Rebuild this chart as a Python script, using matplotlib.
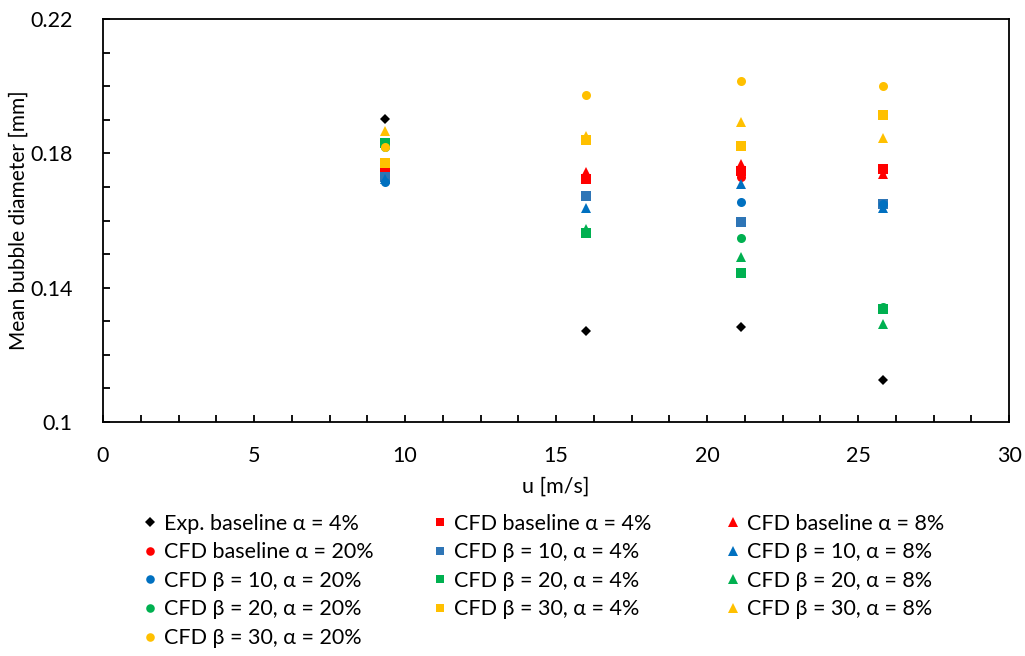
import matplotlib
matplotlib.use("Agg")
import matplotlib.pyplot as plt
from matplotlib.ticker import MultipleLocator

plt.rcParams['font.family'] = ['Lato', 'DejaVu Sans']

u = [9.35, 15.98, 21.12, 25.82]

labels = [
    "Exp. baseline α = 4%",
    "CFD baseline α = 4%",
    "CFD baseline α = 8%",
    "CFD baseline α = 20%",
    "CFD β = 10, α = 4%",
    "CFD β = 10, α = 8%",
    "CFD β = 10, α = 20%",
    "CFD β = 20, α = 4%",
    "CFD β = 20, α = 8%",
    "CFD β = 20, α = 20%",
    "CFD β = 30, α = 4%",
    "CFD β = 30, α = 8%",
    "CFD β = 30, α = 20%",
]

exp_base_4 = [0.1903, 0.1271, 0.1283, 0.1125]
cfd_base_4 = [0.1748, 0.1725, 0.1748, 0.1753]
cfd_base_8 = [0.1750, 0.1745, 0.1769, 0.1738]
cfd_base_20 = [0.1740, 0.1727, 0.1730, 0.1750]
cfd_b10_4 = [0.1730, 0.1672, 0.1595, 0.1648]
cfd_b10_8 = [0.1725, 0.1636, 0.1710, 0.1636]
cfd_b10_20 = [0.1716, 0.1841, 0.1654, 0.1650]
cfd_b20_4 = [0.1832, 0.1564, 0.1445, 0.1336]
cfd_b20_8 = [0.1832, 0.1576, 0.1491, 0.1293]
cfd_b20_20 = [0.1820, 0.1841, 0.1547, 0.1342]
cfd_b30_4 = [0.1771, 0.1841, 0.1823, 0.1914]
cfd_b30_8 = [0.1867, 0.1852, 0.1892, 0.1847]
cfd_b30_20 = [0.1818, 0.1974, 0.2016, 0.2001]

series = [exp_base_4, cfd_base_4, cfd_base_8, cfd_base_20,
          cfd_b10_4, cfd_b10_8, cfd_b10_20,
          cfd_b20_4, cfd_b20_8, cfd_b20_20,
          cfd_b30_4, cfd_b30_8, cfd_b30_20]

colors = ['black', '#FF0000', '#FF0000', '#FF0000',
          '#2E75B6', '#0070C0', '#0070C0',
          '#00B050', '#00B050', '#00B050',
          '#FFC000', '#FFC000', '#FFC000']
markers = ['D', 's', '^', 'o', 's', '^', 'o', 's', '^', 'o', 's', '^', 'o']
sizes = [5.5, 6.5, 7.5, 6.5, 6.5, 7.5, 6.5, 6.5, 7.5, 6.5, 6.5, 7.5, 6.5]

FS = 15.5

fig = plt.figure(figsize=(10.25, 6.56), dpi=100)
ax = fig.add_axes([0.1005, 0.3567, 0.884, 0.6143])

handles = []
for i, s in enumerate(series):
    h, = ax.plot(u, s, linestyle='none', marker=markers[i], color=colors[i],
                 markersize=sizes[i], markeredgewidth=0, label=labels[i],
                 zorder=3 + (1 if i == 0 else 0))
    handles.append(h)

ax.set_xlim(0, 30)
ax.set_ylim(0.1, 0.22)
ax.xaxis.set_major_locator(MultipleLocator(5))
ax.xaxis.set_minor_locator(MultipleLocator(1.25))
ax.yaxis.set_minor_locator(MultipleLocator(0.01))
ax.set_yticks([0.1, 0.14, 0.18, 0.22])
ax.set_yticklabels(['0.1', '0.14', '0.18', '0.22'])
ax.tick_params(which='both', direction='in', top=False, right=False,
               length=5, width=1.3, labelsize=FS, colors='black')
ax.tick_params(axis='x', pad=17)
ax.tick_params(axis='y', pad=22)
for sp in ax.spines.values():
    sp.set_linewidth(1.3)
    sp.set_color('black')

ax.set_xlabel('u [m/s]', fontsize=FS, labelpad=8)
ax.set_ylabel('Mean bubble diameter [mm]', fontsize=15, labelpad=1)

cols = [[0, 3, 6, 9, 12], [1, 4, 7, 10], [2, 5, 8, 11]]
col_x = [0.1405, 0.4234, 0.709]
for idxs, x0 in zip(cols, col_x):
    fig.legend([handles[k] for k in idxs], [labels[k] for k in idxs],
               loc='upper left', bbox_to_anchor=(x0, 0.217),
               frameon=False, fontsize=FS, handlelength=0.55,
               handletextpad=0.4, labelspacing=0.40,
               borderpad=0, borderaxespad=0, markerscale=0.95)

fig.savefig('out.png', dpi=100)
